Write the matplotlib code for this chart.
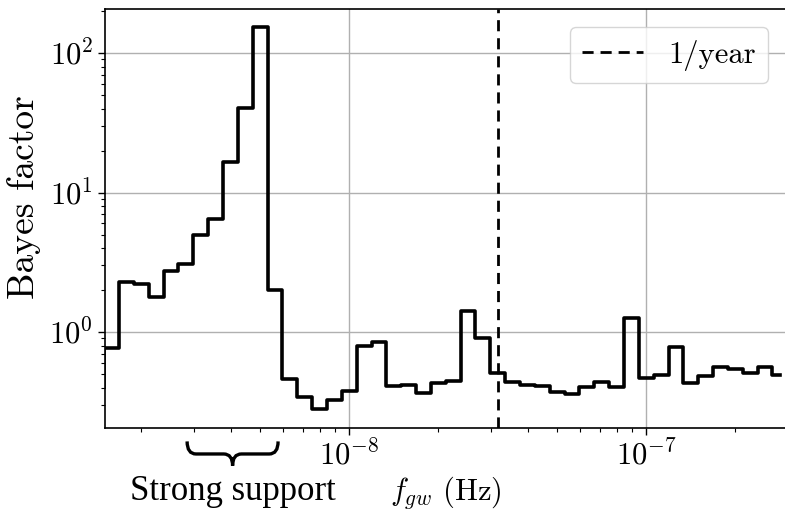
import numpy as np
import matplotlib
matplotlib.use('Agg')
import matplotlib.pyplot as plt
from matplotlib.path import Path
from matplotlib.patches import PathPatch

# frequency grid (bin centres, 20 per decade); first bin lies just left of the plot
freqs = np.logspace(-8.85, -6.55, 47)
bayes_factor = [0.40, 0.77, 2.27, 2.21, 1.79, 2.74, 3.07, 4.98, 6.43, 16.6, 40.5, 153,
                1.99, 0.46, 0.34, 0.279, 0.324, 0.378, 0.79, 0.85, 0.41, 0.42, 0.363,
                0.433, 0.445, 1.41, 0.90, 0.506, 0.435, 0.42, 0.41, 0.37, 0.357, 0.405,
                0.435, 0.405, 1.25, 0.47, 0.49, 0.776, 0.433, 0.486, 0.564, 0.54, 0.506,
                0.558, 0.49]
one_year = 1 / (365.25 * 24 * 3600)
strong_support = (2.85e-9, 5.77e-9)

plt.rcParams.update({'font.family': 'cmr10', 'mathtext.fontset': 'cm',
                     'axes.formatter.use_mathtext': True, 'font.size': 22,
                     'axes.linewidth': 1.2})

fig = plt.figure(figsize=(7.85, 5.12), dpi=100)
ax = fig.add_axes([105/785, 84/512, 681/785, 419/512])

ax.step(freqs, bayes_factor, where='mid', color='black', lw=2.6)
ax.axvline(one_year, color='black', ls=(0, (4, 2.5)), lw=2.0, label='1/year')

ax.set_xscale('log')
ax.set_yscale('log')
ax.set_xlim(1.508e-9, 2.96e-7)
ax.set_ylim(0.205, 207)
ax.grid(which='major', color='#b0b0b0', lw=1.0)
ax.tick_params(which='major', direction='out', length=5, width=1)
ax.tick_params(which='minor', direction='out', length=3, width=0.8)

ax.set_ylabel('Bayes factor', fontsize=27)
ax.yaxis.set_label_coords(-0.094, 0.55)
ax.set_xlabel(r'$f_{gw}$ (Hz)', fontsize=22)
ax.xaxis.set_label_coords(0.5, -0.11)

leg = ax.legend(loc='upper right', fontsize=22, handlelength=2.0, fancybox=True,
                framealpha=0.8, borderaxespad=0.6)

# curly brace under the "strong support" bins
u0, u1 = np.log10(strong_support)
um = 0.5 * (u0 + u1)
d = 0.03
yt, ym, yb = -0.032, -0.062, -0.090
pts = [(u0, yt), (u0, ym), (u0 + d, ym), (um - d, ym), (um, ym), (um, yb),
       (um, ym), (um + d, ym), (u1 - d, ym), (u1, ym), (u1, yt)]
codes = [Path.MOVETO, Path.CURVE3, Path.CURVE3, Path.LINETO, Path.CURVE3, Path.CURVE3,
         Path.CURVE3, Path.CURVE3, Path.LINETO, Path.CURVE3, Path.CURVE3]
verts = [(10**u, y) for u, y in pts]
brace = PathPatch(Path(verts, codes), transform=ax.get_xaxis_transform(),
                  fill=False, lw=2.4, color='black', clip_on=False)
ax.add_patch(brace)
ax.text(10**um, -0.112, 'Strong support', transform=ax.get_xaxis_transform(),
        ha='center', va='top', fontsize=25, family='Liberation Serif')

plt.savefig('out.png', dpi=100)
